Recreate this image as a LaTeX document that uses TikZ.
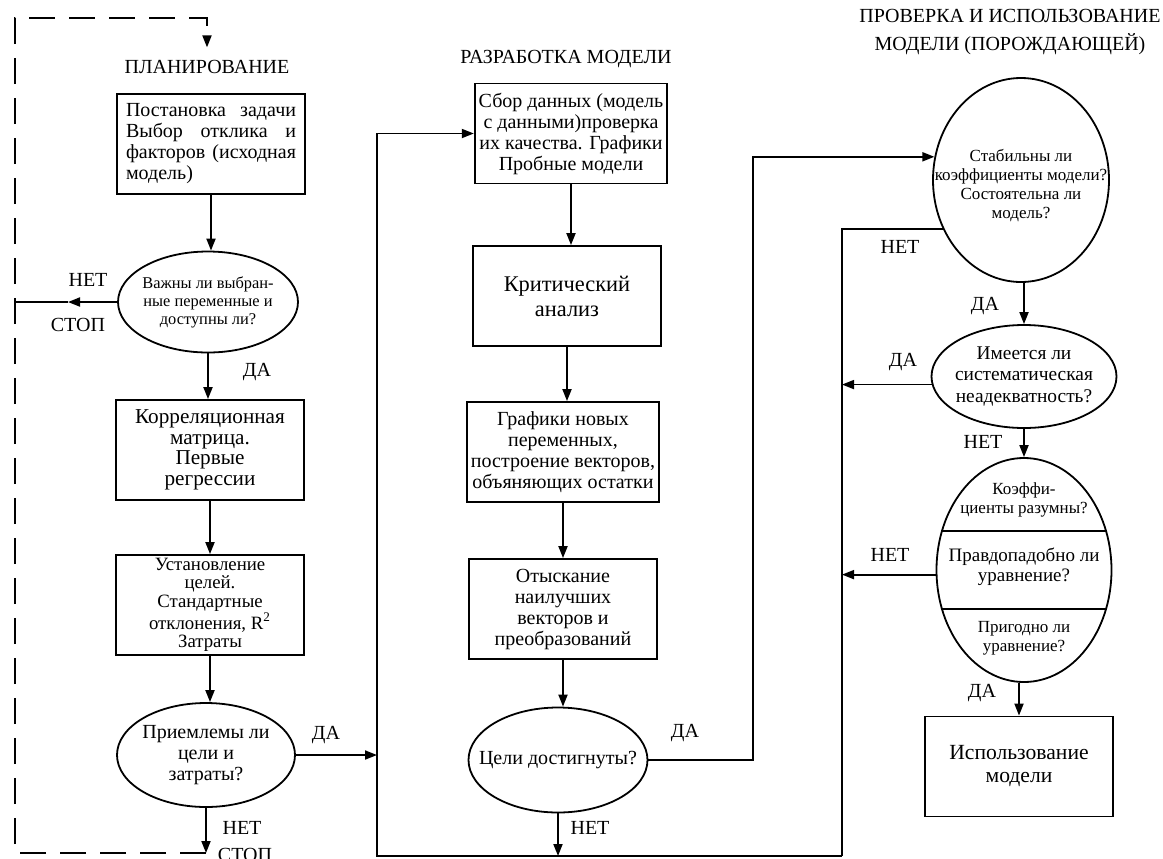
\documentclass[tikz,border=0pt]{standalone}
\usepackage{fontspec}
\setmainfont{Liberation Serif}
\usetikzlibrary{shapes.geometric,arrows.meta}

\begin{document}
\begin{tikzpicture}[x=0.5pt,y=-0.5pt,line width=0.9pt,
  block/.style={draw,rectangle,minimum width=94pt,minimum height=50pt,inner sep=2pt,align=center,font=\fontsize{10}{10.5}\selectfont},
  decision/.style={draw,ellipse,inner sep=0pt},
  qtext/.style={align=center,inner sep=0pt,font=\fontsize{10}{10.5}\selectfont},
  qsmall/.style={align=center,inner sep=0pt,font=\fontsize{8.5}{9.5}\selectfont},
  bigtext/.style={font=\fontsize{11.2}{12.5}\selectfont},
  heading/.style={inner sep=6pt,align=center,font=\fontsize{10}{13.8}\selectfont},
  answer/.style={inner sep=0pt,font=\fontsize{10}{10}\selectfont},
  flow/.style={-{Triangle[length=6pt,width=4.5pt]}},
  dashloop/.style={dash pattern=on 13pt off 7pt}]

\useasboundingbox (0,0) rectangle (1163,858);

\coordinate (tl) at (15,18);
\coordinate (bl) at (15,853);
\coordinate (na) at (68,0);
\coordinate (ml) at (377,856);
\coordinate (mr) at (842,856);
\coordinate (rt) at (753,0);

\node[heading] (t1) at (207,67) {ПЛАНИРОВАНИЕ};
\node[block,text width=85pt,align=left] (b1) at (211,144) {Постановка\hfill задачи\\Выбор\hfill отклика\hfill и\\факторов\hfill (исходная\\модель)};
\node[decision,minimum width=90pt,minimum height=50.5pt] (q2) at (208,302) {};
\node[qtext,font=\fontsize{8.2}{9}\selectfont] (q2t) at (q2) {Важны ли выбран-\\ные переменные и\\доступны ли?};
\node[block,font=\fontsize{10.6}{10.3}\selectfont] (b3) at (210,450) {Корреляционная\\матрица.\\Первые\\регрессии};
\node[block,inner ysep=0pt,font=\fontsize{9.4}{9.2}\selectfont] (b4) at (210,605) {Установление\\целей.\\Стандартные\\отклонения, R\textsuperscript{2}\\Затраты};
\node[decision,minimum width=89pt,minimum height=52pt] (q5) at (206,755) {};
\node[qtext] (q5t) at (q5) {Приемлемы ли\\цели и\\затраты?};

\node[heading] (t2) at (566,59) {РАЗРАБОТКА МОДЕЛИ};
\node[block] (b6) at (571,133.5) {Сбор данных (модель\\с данными)проверка\\их качества. Графики\\Пробные модели};
\node[block,bigtext] (b7) at (567,296) {Критический\\анализ};
\node[block] (b8) at (563,452) {Графики новых\\переменных,\\построение векторов,\\объяняющих остатки};
\node[block] (b9) at (563,609) {Отыскание\\наилучших\\векторов и\\преобразований};
\node[decision,minimum width=89.5pt,minimum height=52.5pt] (q10) at (558,760) {};
\node[qtext] (q10t) at (q10) {Цели достигнуты?};

\node[heading] (t3) at (1010,32) {ПРОВЕРКА И ИСПОЛЬЗОВАНИЕ\\МОДЕЛИ (ПОРОЖДАЮЩЕЙ)};
\node[decision,minimum width=88pt,minimum height=102pt] (q11) at (1021,180) {};
\node[qsmall] (q11t) at (1021,186) {Стабильны ли\\коэффициенты модели?\\Состоятельна ли\\модель?};
\node[decision,minimum width=92.5pt,minimum height=51.5pt] (q12) at (1024,376.5) {};
\node[qtext,font=\fontsize{9.7}{10.7}\selectfont] (q12t) at (q12) {Имеется ли\\систематическая\\неадекватность?};
\node[decision,minimum width=87.5pt,minimum height=112pt] (q13) at (1024,570) {};
\draw (q13.155) -- (q13.25);
\draw (q13.205) -- (q13.335);
\node[qsmall] (q13a) at (1024,500) {Коэффи-\\циенты разумны?};
\node[qtext,font=\fontsize{9.5}{10}\selectfont] (q13b) at (1024,567) {Правдопадобно ли\\уравнение?};
\node[qsmall] (q13c) at (1024,638) {Пригодно ли\\уравнение?};
\node[block,bigtext,font=\fontsize{10.8}{11.5}\selectfont] (b14) at (1019,766.5) {Использование\\модели};

% planning
\draw[flow] (b1.south) -- (b1.south |- q2.north);
\draw[flow] (q2.south) -- (q2.south |- b3.north);
\draw[flow] (b3.south) -- (b3.south |- b4.north);
\draw[flow] (b4.south) -- (b4.south |- q5.north);
\draw[flow] (q2.west) -- (q2.west -| na);
\draw (q2.west -| na) -- (q2.west -| tl);
\draw[flow] (q5.south) -- (q5.south |- bl);
\draw[dashloop,flow] (q5.south |- bl) -- (bl) -- (tl) -- (tl -| t1.north) -- (t1.north);
\draw[flow] (q5.east) -- (q5.east -| ml);

% model building
\draw[flow] (b6.south) -- (b6.south |- b7.north);
\draw[flow] (b7.south) -- (b7.south |- b8.north);
\draw[flow] (b8.south) -- (b8.south |- b9.north);
\draw[flow] (b9.south) -- (b9.south |- q10.north);
\draw[flow] (q10.south) -- (q10.south |- ml);
\draw[flow] (mr) -- (ml) |- (b6.west);
\draw[flow] (q10.east) -| (rt |- q11.165) -- (q11.165);

% checking
\draw[flow] (q11.south -| q12.north) -- (q12.north);
\draw[flow] (q12.south) -- (q12.south |- q13.north);
\draw[flow] (q13.south -| b14.north) -- (b14.north);
\draw (q11.212) -| (mr);
\draw[flow] (q12.185) -- (q12.185 -| mr);
\draw[flow] (q13.183) -- (q13.183 -| mr);

\node[answer] (n1) at (88,280) {НЕТ};
\node[answer] (s1) at (78,325) {СТОП};
\node[answer] (y1) at (257,372) {ДА};
\node[answer] (y2) at (326,735) {ДА};
\node[answer] (n2) at (242,828) {НЕТ};
\node[answer] (s2) at (245,855) {СТОП};
\node[answer] (y3) at (685,733) {ДА};
\node[answer] (n3) at (590,828) {НЕТ};
\node[answer] (n4) at (900,247) {НЕТ};
\node[answer] (y4) at (985,306) {ДА};
\node[answer] (y5) at (903,362) {ДА};
\node[answer] (n5) at (983,442) {НЕТ};
\node[answer] (n6) at (890,555) {НЕТ};
\node[answer] (y6) at (982,693) {ДА};
\end{tikzpicture}
\end{document}
